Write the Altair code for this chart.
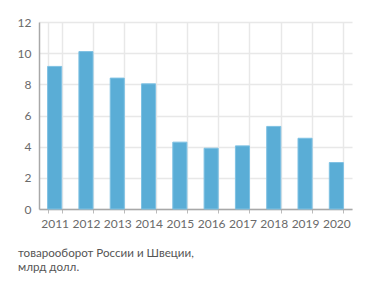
import altair as alt
import pandas as pd

years = ["2011", "2012", "2013", "2014", "2015", "2016", "2017", "2018", "2019", "2020"]
values = [9.15, 10.1, 8.4, 8.03, 4.29, 3.9, 4.05, 5.3, 4.54, 2.98]
y_ticks = [0, 2, 4, 6, 8, 10, 12]
caption = ["товарооборот России и Швеции,", "млрд долл."]

df = pd.DataFrame({"year": years, "value": values})

FONT = "Lato"

chart = alt.Chart(df).mark_bar(
    color="#5aadd6", stroke="#7ec1e3", strokeWidth=1
).encode(
    x=alt.X("year:N", title=None, sort=years,
            scale=alt.Scale(paddingInner=0.55, paddingOuter=0.275),
            axis=alt.Axis(tickBand="extent", labelAngle=0, grid=True,
                          gridColor="#e8e8e8", gridWidth=1.5,
                          domainColor="#a8a8a8", domainWidth=1.5,
                          tickColor="#bbbbbb", tickSize=4, tickWidth=1,
                          labelColor="#6a6a6a", labelFont=FONT, labelFontSize=12,
                          labelPadding=5)),
    y=alt.Y("value:Q", title=None,
            scale=alt.Scale(domain=[0, 12], nice=False),
            axis=alt.Axis(values=y_ticks, grid=True, gridColor="#e8e8e8", gridWidth=1.5,
                          domainColor="#a8a8a8", domainWidth=1.5, ticks=False,
                          labelColor="#6a6a6a", labelFont=FONT, labelFontSize=12,
                          labelPadding=8)),
).properties(
    width=313, height=187,
    autosize=alt.AutoSizeParams(type="none"),
    padding={"left": 39, "top": 22, "right": 19, "bottom": 79},
    title=alt.TitleParams(text=caption, orient="bottom", anchor="start", frame="group",
                          dx=-21, offset=19, font=FONT, fontSize=11.6, fontWeight="normal",
                          color="#555555", lineHeight=14),
).configure_view(stroke=None)

chart.save("out.html", embed_options={"renderer": "svg", "actions": False})
